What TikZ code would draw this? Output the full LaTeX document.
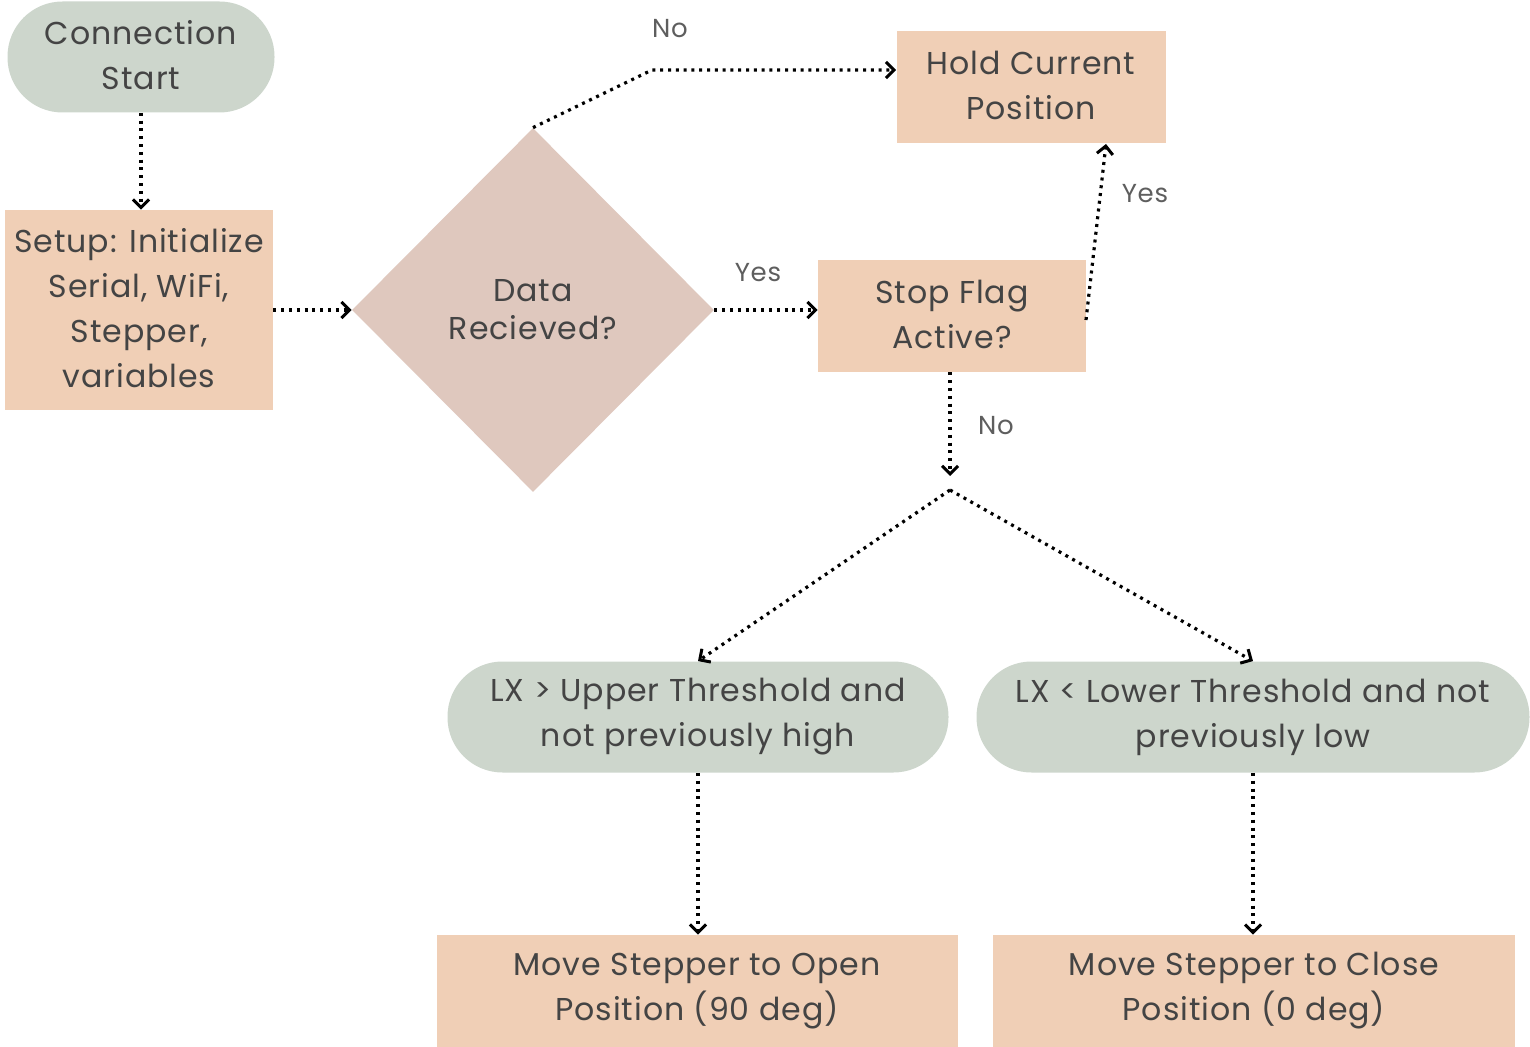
\documentclass[tikz,border=0pt]{standalone}
\usepackage{fontspec}
\setmainfont{Poppins}[LetterSpace=3]
\usetikzlibrary{shapes.geometric,arrows.meta}
\definecolor{sage}{HTML}{CDD6CC}
\definecolor{peach}{HTML}{F0CFB6}
\definecolor{rose}{HTML}{DFC8BE}
\definecolor{txt}{HTML}{444444}
\definecolor{lbl}{HTML}{5E5E5E}
\tikzset{
  base/.style={inner sep=0pt, align=center, text=txt, font=\fontsize{15.8}{22.5}\selectfont},
  pill/.style={base, fill=sage, rounded corners=27.5pt},
  boxr/.style={base, fill=peach},
  dia/.style={base, shape=diamond, fill=rose, minimum width=181pt, minimum height=182pt},
  conn/.style={line width=1.6pt, dash pattern=on 1.5pt off 2.4pt, black,
     -{Straight Barb[length=4pt,width=8pt,line width=1.5pt]}},
  lab/.style={text=lbl, font=\fontsize{13}{15}\selectfont, inner sep=0pt}
}
\newcommand{\up}[1]{\raisebox{2pt}{#1}}
\begin{document}
\begin{tikzpicture}[x=0.5pt,y=-0.5pt]
\useasboundingbox (0,0) rectangle (1530,1047);
\node[pill, minimum width=133.5pt, minimum height=55.5pt] (start) at (141,57) {\up{Connection}\\\up{Start}};
\node[boxr, minimum width=134pt, minimum height=100pt] (setup) at (139,310) {\up{Setup: Initialize}\\\up{Serial, WiFi,}\\\up{Stepper,}\\\up{variables}};
\node[dia] (data) at (533,310) {Data\\[-3.5pt]Recieved?};
\node[boxr, minimum width=134.5pt, minimum height=56pt] (hold) at (1031,87) {\up{Hold Current}\\\up{Position}};
\node[boxr, minimum width=134pt, minimum height=56pt] (stop) at (952,316) {\up{Stop Flag}\\\up{Active?}};
\node[pill, minimum width=250.5pt, minimum height=55.5pt] (upper) at (698,717) {LX > Upper Threshold and\\not previously high};
\node[pill, minimum width=276.5pt, minimum height=55.5pt] (lower) at (1253,717) {LX < Lower Threshold and not\\previously low};
\node[boxr, minimum width=260.5pt, minimum height=56pt] (open) at (697,991) {Move Stepper to Open\\Position (90 deg)};
\node[boxr, minimum width=261pt, minimum height=56pt] (close) at (1254,991) {Move Stepper to Close\\Position (0 deg)};
\coordinate (bend) at (652,70);
\coordinate (noend) at (950,476);
\coordinate (split) at (950,490);
\coordinate (stopout) at (1086,320);
\coordinate (holdin) at (1106,144);
\draw[conn] (start.south) -- (start.south |- setup.north);
\draw[conn] (setup.east) -- (data.west);
\draw[conn] (data.north) -- (bend) -- (bend -| hold.west);
\draw[conn] (data.east) -- (data.east -| stop.west);
\draw[conn] (stopout) -- (holdin);
\draw[conn] (stop.south -| noend) -- (noend);
\draw[conn] (split) -- (upper.north);
\draw[conn] (split) -- (lower.north);
\draw[conn] (upper.south) -- (upper.south |- open.north);
\draw[conn] (lower.south) -- (lower.south |- close.north);
\node[lab] (lno) at (670,29) {No};
\node[lab] (lyes) at (758,273) {Yes};
\node[lab] (lyes2) at (1145,194) {Yes};
\node[lab] (lno2) at (996,426) {No};
\end{tikzpicture}
\end{document}
